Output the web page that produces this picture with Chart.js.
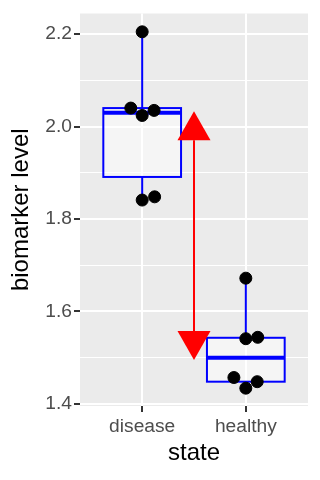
<!DOCTYPE html>
<html>
<head>
<meta charset="utf-8">
<script src="https://cdn.jsdelivr.net/npm/chart.js@4"></script>
<style>
  body { margin: 0; background: #fff; }
  #wrap { width: 320px; height: 480px; }
</style>
</head>
<body>
<div id="wrap"><canvas id="bm"></canvas></div>
<script>
//Data//
const states = ["disease", "healthy"];

// jittered points, x = category position (1 = disease, 2 = healthy)
const pointX = [1.00, 0.89, 1.115, 1.00, 1.12, 1.00, 2.00, 2.00, 2.115, 1.885, 2.11, 2.00];
const pointY = [2.205, 2.040, 2.035, 2.024, 1.848, 1.841, 1.672, 1.541, 1.544, 1.457, 1.448, 1.434];

// box statistics per state
const whiskerLow = [1.841, 1.434];
const q1 = [1.891, 1.448];
const median = [2.030, 1.500];
const q3 = [2.040, 1.543];
const whiskerHigh = [2.205, 1.672];

// red arrow between the medians
const arrowX = [1.5];
const arrowFrom = [2.033];
const arrowTo = [1.495];

const yMajor = [1.4, 1.6, 1.8, 2.0, 2.2];
const yMinor = [1.5, 1.7, 1.9, 2.1];
const xTicks = [1, 2];
//Akhir Data//

const boxWidth = 0.75;

const boxPlugin = {
  id: "boxes",
  beforeDraw(chart) {
    const { ctx, chartArea: a } = chart;
    ctx.save();
    ctx.fillStyle = "#EBEBEB";
    ctx.fillRect(a.left, a.top, a.right - a.left, a.bottom - a.top);
    ctx.restore();
  },
  beforeDatasetsDraw(chart) {
    const { ctx } = chart;
    const x = chart.scales.x, y = chart.scales.y;
    ctx.save();
    ctx.strokeStyle = "#0000FF";
    for (let i = 0; i < states.length; i++) {
      const cx = x.getPixelForValue(i + 1);
      const half = x.getPixelForValue(i + 1 + boxWidth / 2) - cx;
      const top = y.getPixelForValue(q3[i]);
      const bot = y.getPixelForValue(q1[i]);

      ctx.lineWidth = 2;
      ctx.beginPath();
      ctx.moveTo(cx, y.getPixelForValue(whiskerHigh[i]));
      ctx.lineTo(cx, top);
      ctx.moveTo(cx, bot);
      ctx.lineTo(cx, y.getPixelForValue(whiskerLow[i]));
      ctx.stroke();

      ctx.fillStyle = "rgba(255,255,255,0.5)";
      ctx.fillRect(cx - half, top, half * 2, bot - top);
      ctx.strokeRect(cx - half, top, half * 2, bot - top);

      const my = y.getPixelForValue(median[i]);
      ctx.lineWidth = 4;
      ctx.beginPath();
      ctx.moveTo(cx - half, my);
      ctx.lineTo(cx + half, my);
      ctx.stroke();
    }
    ctx.restore();
  },
  afterDatasetsDraw(chart) {
    const { ctx } = chart;
    const x = chart.scales.x, y = chart.scales.y;
    const ax = x.getPixelForValue(arrowX[0]);
    const yTop = y.getPixelForValue(arrowFrom[0]);
    const yBot = y.getPixelForValue(arrowTo[0]);
    const headLen = 29, headHalf = 16.5;
    ctx.save();
    ctx.strokeStyle = "#FF0000";
    ctx.fillStyle = "#FF0000";
    ctx.lineWidth = 2;
    ctx.beginPath();
    ctx.moveTo(ax, yTop + headLen);
    ctx.lineTo(ax, yBot - headLen);
    ctx.stroke();
    ctx.beginPath();
    ctx.moveTo(ax, yTop);
    ctx.lineTo(ax - headHalf, yTop + headLen);
    ctx.lineTo(ax + headHalf, yTop + headLen);
    ctx.closePath();
    ctx.fill();
    ctx.beginPath();
    ctx.moveTo(ax, yBot);
    ctx.lineTo(ax - headHalf, yBot - headLen);
    ctx.lineTo(ax + headHalf, yBot - headLen);
    ctx.closePath();
    ctx.fill();
    ctx.restore();
  }
};

const isMajor = (v) => yMajor.some((m) => Math.abs(m - v) < 1e-9);

const data = {
  datasets: [
    {
      label: "biomarker",
      data: pointX.map((v, i) => ({ x: v, y: pointY[i] })),
      backgroundColor: "#000000",
      borderColor: "#000000",
      borderWidth: 1,
      pointRadius: 6,
    },
  ],
};

const config = {
  type: "scatter",
  data: data,
  options: {
    responsive: true,
    maintainAspectRatio: false,
    animation: false,
    layout: { padding: { top: 12, right: 12, left: 0, bottom: 0 } },
    scales: {
      x: {
        type: "linear",
        min: 0.4,
        max: 2.6,
        afterBuildTicks: (scale) => {
          scale.ticks = xTicks.map((v) => ({ value: v }));
        },
        afterFit: (scale) => { scale.height = 74; },
        border: { display: false },
        grid: {
          color: "#FFFFFF",
          lineWidth: 2,
          tickLength: 6,
          tickColor: "#333333",
          tickWidth: 2,
        },
        ticks: {
          padding: 3,
          color: "#4D4D4D",
          font: { family: "Liberation Sans", size: 19.2 },
          callback: (v) => states[v - 1],
        },
        title: {
          display: true,
          text: "state",
          color: "#000000",
          font: { family: "Liberation Sans", size: 24 },
          padding: { top: 0, bottom: 12 },
        },
      },
      y: {
        min: 1.3954,
        max: 2.2446,
        afterBuildTicks: (scale) => {
          scale.ticks = yMajor.concat(yMinor).sort().map((v) => ({ value: v }));
        },
        afterFit: (scale) => { scale.width = 80; },
        border: { display: false },
        grid: {
          color: "#FFFFFF",
          lineWidth: (c) => (c.tick && isMajor(c.tick.value) ? 2 : 1),
          tickLength: 6,
          tickColor: (c) => (c.tick && isMajor(c.tick.value) ? "#333333" : "rgba(0,0,0,0)"),
          tickWidth: 2,
        },
        ticks: {
          padding: 2,
          color: "#4D4D4D",
          font: { family: "Liberation Sans", size: 19.2 },
          callback: (v) => (isMajor(v) ? v.toFixed(1) : ""),
        },
        title: {
          display: true,
          text: "biomarker level",
          color: "#000000",
          font: { family: "Liberation Sans", size: 24 },
          padding: { top: 7, bottom: 0 },
        },
      },
    },
    plugins: {
      legend: { display: false },
      tooltip: { enabled: false },
    },
  },
  plugins: [boxPlugin],
};

const bmChart = new Chart(document.getElementById("bm").getContext("2d"), config);
</script>
</body>
</html>
